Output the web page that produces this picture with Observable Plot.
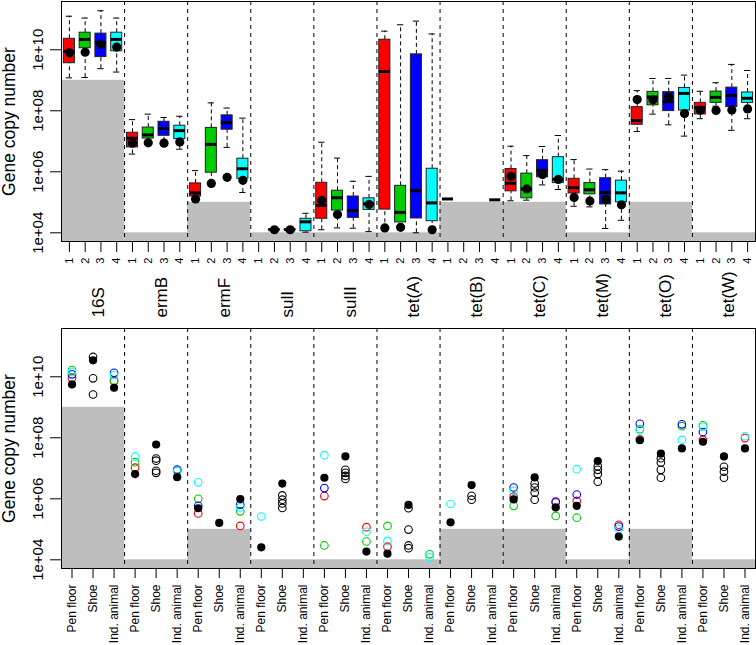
<!DOCTYPE html>
<html><head><meta charset="utf-8">
<script src="https://cdn.jsdelivr.net/npm/d3@7"></script>
<script src="https://cdn.jsdelivr.net/npm/@observablehq/plot@0.6"></script>
<style>
body{margin:0;background:#fff;overflow:hidden}
#chart svg{display:block}
</style></head><body><div id="chart"></div>
<script>
// ---------- categories ----------
const genes = ["16S","ermB","ermF","sulI","sulII","tet(A)","tet(B)","tet(C)","tet(M)","tet(O)","tet(W)"];
const detectionLimit = [9,4,5,4,4,4,5,5,4,5,4]; // log10 copies
const farms = ["1","2","3","4"];
const farmColors = ["#FF0000","#00CD00","#0000FF","#00FFFF"];
const sources = ["Pen floor","Shoe","Ind. animal"];
const yTicks = [1e4,1e6,1e8,1e10];

// ---------- top panel: boxplot statistics (log10), 4 farms per gene ----------
const whiskerLow = [
  9.08,9.09,9.38,9.27,  6.58,6.97,7.00,6.74,  5.10,5.62,6.80,5.32,  null,4.08,4.08,4.02,
  4.10,4.16,4.15,4.04,  4.10,4.15,4.00,4.08,  5.11,null,null,5.08,  5.05,5.07,5.57,5.42,
  4.87,4.85,4.14,4.41,  7.32,7.89,7.54,7.17,  7.74,8.15,7.36,7.74];
const boxLow = [
  9.56,10.05,9.76,9.95, 6.80,7.09,7.18,7.07,  5.19,5.97,7.38,5.77,  null,4.09,4.09,4.05,
  4.46,4.73,4.49,4.75,  4.76,4.34,4.47,4.38,  5.11,null,null,5.08,  5.36,5.13,5.82,5.63,
  5.29,5.26,4.93,5.00,  7.54,8.18,7.99,8.01,  7.88,8.26,8.12,8.26];
const median = [
  9.95,10.34,10.23,10.34, 7.10,7.21,7.42,7.35, 5.31,6.90,7.61,6.10, null,4.10,4.10,4.36,
  4.90,5.15,4.73,4.95,  9.29,4.67,5.38,4.98,  5.11,null,null,5.08,  5.62,5.44,6.05,5.75,
  5.48,5.41,5.32,5.31,  7.68,8.45,8.30,8.57,  8.10,8.44,8.50,8.41];
const boxHigh = [
  10.36,10.56,10.53,10.56, 7.28,7.45,7.64,7.51, 5.62,7.44,7.85,6.43, null,4.11,4.11,4.46,
  5.64,5.38,5.19,5.13,  10.33,5.54,9.85,6.10, 5.11,null,null,5.08,  6.09,5.94,6.38,6.48,
  5.77,5.63,5.79,5.71,  8.12,8.62,8.61,8.75,  8.26,8.63,8.76,8.60];
const whiskerHigh = [
  11.10,11.04,11.28,11.04, 7.71,7.89,7.78,7.82, 6.04,8.26,8.09,7.76, null,4.14,4.14,4.64,
  6.97,6.45,5.69,5.85,  10.61,10.82,10.94,10.52, 5.11,null,null,5.08, 6.84,6.53,6.83,7.19,
  6.40,6.09,6.07,6.02,  8.66,9.06,9.06,9.17,  8.64,8.92,9.52,9.32];
const farmPoint = [
  9.90,9.92,10.18,10.09, 6.94,6.95,6.94,6.98, 5.11,5.62,5.82,5.72, null,4.10,4.10,null,
  5.06,4.60,null,4.93,  4.16,4.18,null,4.10,  null,null,null,null,  5.85,5.44,5.91,5.75,
  5.16,5.04,5.10,4.92,  8.37,8.36,8.45,7.91,  8.02,8.01,8.03,8.06];

// ---------- bottom panel (log10), order per gene: Pen floor, Shoe, Ind. animal ----------
const envFarm1 = [
  9.96,null,9.86,  7.02,null,6.92,  5.52,null,5.11,  null,null,null,  6.09,null,5.07,  4.43,null,null,
  null,null,null,  6.07,null,5.88,  5.93,null,5.15,  7.95,null,null,  7.93,null,7.99];
const envFarm2 = [
  10.22,null,9.88, 7.20,null,6.92,  6.00,null,5.59,  null,null,null,  4.47,null,4.60,  5.11,null,4.18,
  null,null,null,  5.77,null,5.44,  5.38,null,null,  8.28,null,8.38,  8.41,null,null];
const envFarm3 = [
  10.08,null,10.13, null,null,6.96, 5.77,null,5.81,  null,null,null,  6.35,null,null,  null,null,null,
  null,null,null,  6.37,null,5.91,  6.14,null,5.09,  8.46,null,8.44,  8.19,null,null];
const envFarm4 = [
  10.16,null,10.05, 7.38,null,6.92, 6.54,null,5.72,  5.42,null,null,  7.43,null,4.92,  4.62,null,4.08,
  5.83,null,null,  6.26,null,null,  6.97,null,5.01,  8.25,null,7.93,  8.36,null,8.05];
const shoeSamples = [
  [10.65,9.95,9.42], [7.32,7.25,6.92,6.85], [], [6.11,5.97,5.85,5.70], [6.95,6.85,6.75,6.65],
  [5.69,4.99,4.47,4.38], [6.10,5.97], [6.50,6.37,6.20,5.97], [7.07,6.95,6.81,6.56],
  [7.33,7.19,6.95,6.69], [7.05,6.89,6.69]];
const pooled = [
  9.75,10.54,9.64,  6.81,7.78,6.71,  5.69,5.21,5.99,  4.41,6.50,null,  6.69,7.39,4.27,  4.20,5.80,null,
  5.23,6.45,null,  5.98,6.70,5.72,  5.77,7.24,4.76,  7.92,7.48,7.65,  7.87,7.39,7.65];

// ---------- derived tables ----------
const p10 = v => (v == null ? null : Math.pow(10, v));
const yDomain = [Math.pow(10, 3.715), Math.pow(10, 11.583)];
const font = "'Liberation Sans', Arial, Helvetica, sans-serif";

const boxes = d3.range(44).map(i => ({
  x: i + 1, farm: i % 4, gene: genes[Math.floor(i / 4)],
  wl: p10(whiskerLow[i]), q1: p10(boxLow[i]), med: p10(median[i]),
  q3: p10(boxHigh[i]), wh: p10(whiskerHigh[i]), pt: p10(farmPoint[i])
})).filter(d => d.med != null);

const envPoints = [];
[envFarm1, envFarm2, envFarm3, envFarm4].forEach((arr, f) =>
  arr.forEach((v, i) => { if (v != null) envPoints.push({x: i + 1, y: p10(v), color: farmColors[f]}); }));
const shoePoints = [];
shoeSamples.forEach((vals, g) => vals.forEach(v => shoePoints.push({x: g * 3 + 2, y: p10(v)})));
const pooledPoints = pooled.map((v, i) => ({x: i + 1, y: p10(v)})).filter(d => d.y != null);

const yLabelFmt = d => "1e+" + String(Math.round(Math.log10(d))).padStart(2, "0");

function limitRects(n) {
  return Plot.rect(genes, {
    x1: (d, i) => i * n + 0.5, x2: (d, i) => i * n + n + 0.5,
    y1: yDomain[0], y2: (d, i) => p10(detectionLimit[i]), fill: "#BEBEBE"
  });
}
function separators(n) {
  return Plot.ruleX(d3.range(1, genes.length).map(g => g * n + 0.5),
    {stroke: "black", strokeDasharray: "4,4", strokeWidth: 1});
}
function yAxisMarks() {
  return [
    Plot.axisY(yTicks, {tickFormat: yLabelFmt, tickRotate: -90, tickSize: 11, tickPadding: 8,
      fontSize: 15, label: null}),
    Plot.text(["Gene copy number"], {frameAnchor: "left", dx: -47, rotate: -90,
      textAnchor: "middle", lineAnchor: "bottom", fontSize: 17.5})
  ];
}

const topPlot = Plot.plot({
  width: 756, height: 327, marginLeft: 61, marginRight: 1, marginTop: 1, marginBottom: 86,
  style: {fontFamily: font, color: "black", background: "white"},
  x: {domain: [0.5, 44.5]},
  y: {type: "log", domain: yDomain},
  color: {type: "identity"},
  marks: [
    limitRects(4),
    separators(4),
    Plot.ruleX(boxes, {x: "x", y1: "wl", y2: "q1", strokeDasharray: "4,3", stroke: "black"}),
    Plot.ruleX(boxes, {x: "x", y1: "q3", y2: "wh", strokeDasharray: "4,3", stroke: "black"}),
    Plot.ruleY(boxes, {y: "wl", x1: d => d.x - 0.2, x2: d => d.x + 0.2, stroke: "black"}),
    Plot.ruleY(boxes, {y: "wh", x1: d => d.x - 0.2, x2: d => d.x + 0.2, stroke: "black"}),
    Plot.rect(boxes, {x1: d => d.x - 0.35, x2: d => d.x + 0.35, y1: "q1", y2: "q3",
      fill: d => farmColors[d.farm], stroke: "#222", strokeWidth: 1}),
    Plot.ruleY(boxes, {y: "med", x1: d => d.x - 0.35, x2: d => d.x + 0.35, stroke: "black", strokeWidth: 3}),
    Plot.dot(boxes.filter(d => d.pt != null), {x: "x", y: "pt", r: 4.6, fill: "black", stroke: "none"}),
    Plot.frame({stroke: "black"}),
    Plot.axisX(d3.range(1, 45), {tickFormat: d => farms[(d - 1) % 4], tickRotate: -90,
      tickSize: 11, tickPadding: 5, fontSize: 11, label: null}),
    ...yAxisMarks(),
    Plot.text(genes, {x: (d, i) => i * 4 + 2.5, text: d => d, frameAnchor: "bottom", dy: 76, dx: 10.5,
      rotate: -90, textAnchor: "start", lineAnchor: "bottom", fontSize: 17})
  ]
});

const bottomPlot = Plot.plot({
  width: 756, height: 318, marginLeft: 61, marginRight: 1, marginTop: 1, marginBottom: 77,
  style: {fontFamily: font, color: "black", background: "white"},
  x: {domain: [0.5, 33.5]},
  y: {type: "log", domain: yDomain},
  color: {type: "identity"},
  marks: [
    limitRects(3),
    separators(3),
    Plot.dot(envPoints, {x: "x", y: "y", r: 3.8, stroke: "color", fill: "none", strokeWidth: 1.1}),
    Plot.dot(shoePoints, {x: "x", y: "y", r: 3.8, stroke: "black", fill: "none", strokeWidth: 1.1}),
    Plot.dot(pooledPoints, {x: "x", y: "y", r: 4.1, fill: "black", stroke: "none"}),
    Plot.frame({stroke: "black"}),
    Plot.axisX(d3.range(1, 34), {tickFormat: d => sources[(d - 1) % 3], tickRotate: -90,
      tickSize: 10, tickPadding: 6, fontSize: 12, label: null}),
    ...yAxisMarks()
  ]
});

const host = document.getElementById("chart");
host.appendChild(topPlot);
host.appendChild(bottomPlot);
</script></body></html>
